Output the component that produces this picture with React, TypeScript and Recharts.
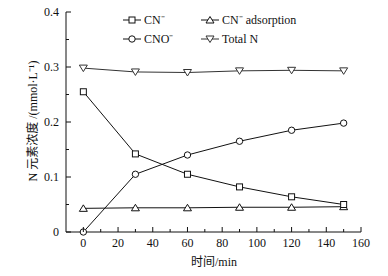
import React from "react";
import { LineChart, Line, XAxis, YAxis } from "recharts";

const times = [0, 30, 60, 90, 120, 150];
const cn = [0.255, 0.142, 0.105, 0.082, 0.064, 0.05];
const cno = [0, 0.105, 0.14, 0.165, 0.185, 0.198];
const cnAds = [0.043, 0.044, 0.044, 0.045, 0.045, 0.046];
const totalN = [0.298, 0.291, 0.29, 0.293, 0.294, 0.293];

const xTicks = [0, 10, 20, 30, 40, 50, 60, 70, 80, 90, 100, 110, 120, 130, 140, 150, 160];
const xLabels = ["0", "", "20", "", "40", "", "60", "", "80", "", "100", "", "120", "", "140", "", "160"];
const yTicks = [0, 0.05, 0.1, 0.15, 0.2, 0.25, 0.3, 0.35, 0.4];
const yLabels = ["0", "", "0.1", "", "0.2", "", "0.3", "", "0.4"];

const seriesNames = ["CN⁻", "CNO⁻", "CN⁻ adsorption", "Total N"];
const xTitle = "时间/min";
const yTitle = "N 元素浓度 /(mmol·L⁻¹)";

const data = times.map((t, i) => ({
  t,
  cn: cn[i],
  cno: cno[i],
  ads: cnAds[i],
  total: totalN[i],
}));

const FONT = "'Liberation Serif', 'Times New Roman', 'Noto Sans CJK SC', serif";
const INK = "#111";

type Shape = "square" | "circle" | "up" | "down";

function Marker({ shape, cx, cy, color }: { shape: Shape; cx: number; cy: number; color: string }) {
  if (shape === "square")
    return <rect x={cx - 3} y={cy - 3} width={6} height={6} fill="#fff" stroke={color} strokeWidth={1} />;
  if (shape === "circle") return <circle cx={cx} cy={cy} r={3.2} fill="#fff" stroke={color} strokeWidth={1} />;
  if (shape === "up")
    return (
      <polygon
        points={`${cx},${cy - 3.5} ${cx - 4},${cy + 3} ${cx + 4},${cy + 3}`}
        fill="#fff"
        stroke={color}
        strokeWidth={1}
      />
    );
  return (
    <polygon
      points={`${cx},${cy + 3.5} ${cx - 4},${cy - 3} ${cx + 4},${cy - 3}`}
      fill="#fff"
      stroke={color}
      strokeWidth={1}
    />
  );
}

const makeDot = (shape: Shape, color: string) => (props: any) => {
  const { cx, cy, index } = props;
  if (cx == null || cy == null) return <g key={`d-${shape}-${index}`} />;
  return (
    <g key={`d-${shape}-${index}`}>
      <Marker shape={shape} cx={cx} cy={cy} color={color} />
    </g>
  );
};

const XTick = (props: any) => {
  const { x, y, payload, index } = props;
  const label = xLabels[index] ?? "";
  const major = label !== "";
  return (
    <g>
      <line x1={x} y1={y} x2={x} y2={y - (major ? 5 : 3)} stroke={INK} strokeWidth={1} />
      {major && (
        <text x={x} y={y + 15} textAnchor="middle" fontSize={12} fontFamily={FONT} fill={INK}>
          {label}
        </text>
      )}
    </g>
  );
};

const YTick = (props: any) => {
  const { x, y, index } = props;
  const label = yLabels[index] ?? "";
  const major = label !== "";
  return (
    <g>
      <line x1={x} y1={y} x2={x + (major ? 5 : 3)} y2={y} stroke={INK} strokeWidth={1} />
      {major && (
        <text x={x - 7} y={y + 4} textAnchor="end" fontSize={12} fontFamily={FONT} fill={INK}>
          {label}
        </text>
      )}
    </g>
  );
};

export default function App() {
  const legendItems: { name: string; shape: Shape; x: number; y: number; color: string }[] = [
    { name: seriesNames[0], shape: "square", x: 123, y: 20, color: INK },
    { name: seriesNames[1], shape: "circle", x: 123, y: 39, color: INK },
    { name: seriesNames[2], shape: "up", x: 201, y: 20, color: INK },
    { name: seriesNames[3], shape: "down", x: 201, y: 39, color: "#333" },
  ];
  return (
    <div style={{ position: "relative", width: 388, height: 276, margin: -8, background: "#fff" }}>
      <LineChart width={388} height={276} data={data} margin={{ top: 12, right: 27, left: 0, bottom: 0 }}>
        <XAxis
          dataKey="t"
          type="number"
          domain={[-10, 160]}
          ticks={xTicks}
          interval={0}
          height={44}
          tickSize={0}
          tickMargin={0}
          tickLine={false}
          axisLine={{ stroke: INK, strokeWidth: 1 }}
          tick={<XTick />}
        />
        <YAxis
          type="number"
          domain={[0, 0.4]}
          ticks={yTicks}
          interval={0}
          width={66}
          tickSize={0}
          tickMargin={0}
          tickLine={false}
          axisLine={{ stroke: INK, strokeWidth: 1 }}
          tick={<YTick />}
        />
        <Line dataKey="total" stroke="#333" strokeWidth={1} isAnimationActive={false} dot={makeDot("down", "#333")} />
        <Line dataKey="ads" stroke={INK} strokeWidth={1} isAnimationActive={false} dot={makeDot("up", INK)} />
        <Line dataKey="cno" stroke={INK} strokeWidth={1} isAnimationActive={false} dot={makeDot("circle", INK)} />
        <Line dataKey="cn" stroke={INK} strokeWidth={1} isAnimationActive={false} dot={makeDot("square", INK)} />
      </LineChart>
      <svg
        width={388}
        height={276}
        style={{ position: "absolute", left: 0, top: 0, pointerEvents: "none" }}
      >
        {legendItems.map((it) => (
          <g key={it.name}>
            <line x1={it.x} y1={it.y} x2={it.x + 18} y2={it.y} stroke={it.color} strokeWidth={1} />
            <Marker shape={it.shape} cx={it.x + 9} cy={it.y} color={it.color} />
            <text x={it.x + 21} y={it.y + 4} fontSize={12} fontFamily={FONT} fill={INK}>
              {it.name}
            </text>
          </g>
        ))}
        <text
          x={214}
          y={266}
          textAnchor="middle"
          fontSize={12}
          fontFamily={FONT}
          fill={INK}
        >
          {xTitle}
        </text>
        <text
          transform="translate(37,121) rotate(-90)"
          textAnchor="middle"
          fontSize={12}
          fontFamily={FONT}
          fill={INK}
        >
          {yTitle}
        </text>
      </svg>
    </div>
  );
}
